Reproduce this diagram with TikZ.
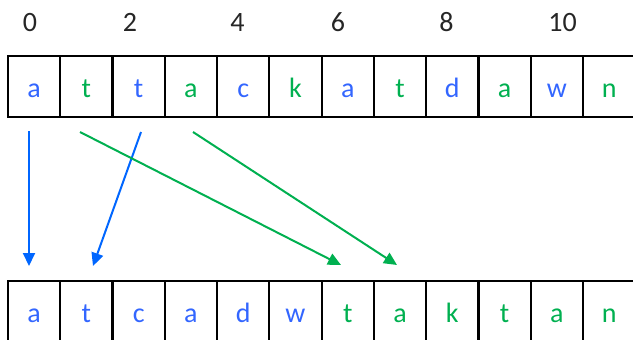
\documentclass[tikz,border=0pt]{standalone}
\usepackage{fontspec}
\setmainfont{Carlito}
\usetikzlibrary{arrows.meta}
\definecolor{myblue}{RGB}{51,102,255}
\definecolor{arrblue}{RGB}{0,102,255}
\definecolor{mygreen}{RGB}{0,176,80}
\begin{document}
\begin{tikzpicture}[x=1pt,y=-1pt,
  cell/.style={draw=black, line width=2.2pt, minimum width=52.27pt, minimum height=61pt,
    inner sep=0pt, outer sep=0pt, text height=21pt, text depth=0pt,
    font=\fontsize{28}{30}\selectfont},
  idx/.style={anchor=base, inner sep=0pt, font=\fontsize{28}{30}\selectfont, text=black!85},
  bl/.style={text=myblue}, gr/.style={text=mygreen},
  arr/.style={line width=2pt, -{Triangle[length=13pt,width=12pt]}}]
\useasboundingbox (0,0) rectangle (633,340);
\clip (0,0) rectangle (633,340);
% index labels
\node[idx] (i0) at (30,31) {0};
\node[idx] (i2) at (130,31) {2};
\node[idx] (i4) at (237.5,31) {4};
\node[idx] (i6) at (338,31) {6};
\node[idx] (i8) at (446.5,31) {8};
\node[idx] (i10) at (562.5,31) {10};
% top row
\foreach \l/\c [count=\i from 0] in {a/bl,t/gr,t/bl,a/gr,c/bl,k/gr,a/bl,t/gr,d/bl,a/gr,w/bl,n/gr}
  \node[cell,\c] (t\i) at ({8+52.27*(\i+0.5)},86.5) {\l};
% bottom row
\foreach \l/\c [count=\i from 0] in {a/bl,t/bl,c/bl,a/bl,d/bl,w/bl,t/gr,a/gr,k/gr,t/gr,a/gr,n/gr}
  \node[cell,\c] (b\i) at ({8+52.27*(\i+0.5)},311.5) {\l};
% arrow end points
\coordinate (s1) at (29,131);  \coordinate (e1) at (29,266);
\coordinate (s2) at (141,132); \coordinate (e2) at (93,266);
\coordinate (s3) at (80,132);  \coordinate (e3) at (341,265);
\coordinate (s4) at (193,132); \coordinate (e4) at (397,265);
\draw[arr,arrblue] (s1) -- (e1);
\draw[arr,arrblue] (s2) -- (e2);
\draw[arr,mygreen] (s3) -- (e3);
\draw[arr,mygreen] (s4) -- (e4);
\end{tikzpicture}
\end{document}
